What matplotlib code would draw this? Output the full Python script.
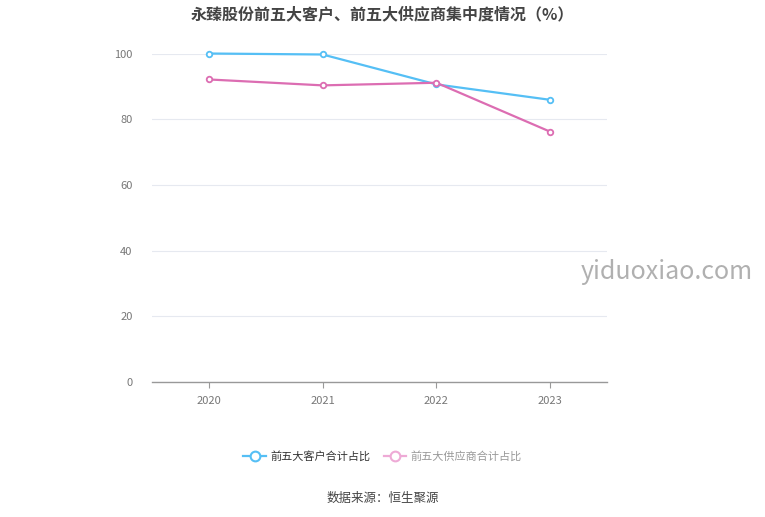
import matplotlib
matplotlib.use('Agg')
import matplotlib.pyplot as plt
from matplotlib.lines import Line2D

plt.rcParams['font.family'] = ['Noto Sans CJK SC', 'DejaVu Sans']

years = ['2020', '2021', '2022', '2023']
customers = [100.0, 99.7, 90.6, 85.9]
suppliers = [92.1, 90.3, 91.1, 76.2]
yticks = [0, 20, 40, 60, 80, 100]

blue = '#55bff5'
pink = '#dc6db2'

fig = plt.figure(figsize=(7.65, 5.17), dpi=100)
ax = fig.add_axes([0.1987, 0.2611, 0.5948, 0.6354])

x = list(range(len(years)))
ax.plot(x, customers, color=blue, lw=1.6, marker='o', ms=4, mfc='white', mec=blue, mew=1.3,
        zorder=3, clip_on=False)
ax.plot(x, suppliers, color=pink, lw=1.6, marker='o', ms=4, mfc='white', mec=pink, mew=1.3,
        zorder=3, clip_on=False)

ax.set_xlim(-0.5, 3.5)
ax.set_ylim(0, 100)
ax.set_xticks(x)
ax.set_xticklabels(years)
ax.set_yticks(yticks)
ax.grid(axis='y', color='#e6e9f0', lw=0.8)
ax.set_axisbelow(True)
for s in ['left', 'right', 'top']:
    ax.spines[s].set_visible(False)
ax.spines['bottom'].set_color('#999999')
ax.spines['bottom'].set_linewidth(1.0)
ax.tick_params(axis='x', length=4, color='#999999', labelcolor='#777777', labelsize=8, pad=6)
ax.tick_params(axis='y', length=0, labelcolor='#777777', labelsize=8, pad=14)

fig.text(0.5, 0.972, '永臻股份前五大客户、前五大供应商集中度情况（%）', ha='center', va='center',
         fontsize=11.5, fontweight='bold', color='#444444')

h1 = Line2D([], [], color=blue, lw=1.6, marker='o', ms=7, mfc='white', mec=blue, mew=1.5)
h2 = Line2D([], [], color='#eeaad6', lw=1.6, marker='o', ms=7, mfc='white', mec='#eeaad6', mew=1.5)
leg = fig.legend([h1, h2], ['前五大客户合计占比', '前五大供应商合计占比'], loc='center',
                 bbox_to_anchor=(0.5, 0.118), ncol=2, frameon=False, fontsize=8,
                 handlelength=2.0, columnspacing=1.2, handletextpad=0.4)
leg.get_texts()[0].set_color('#333333')
leg.get_texts()[1].set_color('#999999')

fig.text(0.5, 0.036, '数据来源：恒生聚源', ha='center', va='center', fontsize=9, color='#444444')
fig.text(0.871, 0.474, 'yiduoxiao.com', ha='center', va='center', fontsize=18, color='#b0b0b0',
         fontweight='light')

fig.savefig('out.png', dpi=100)
